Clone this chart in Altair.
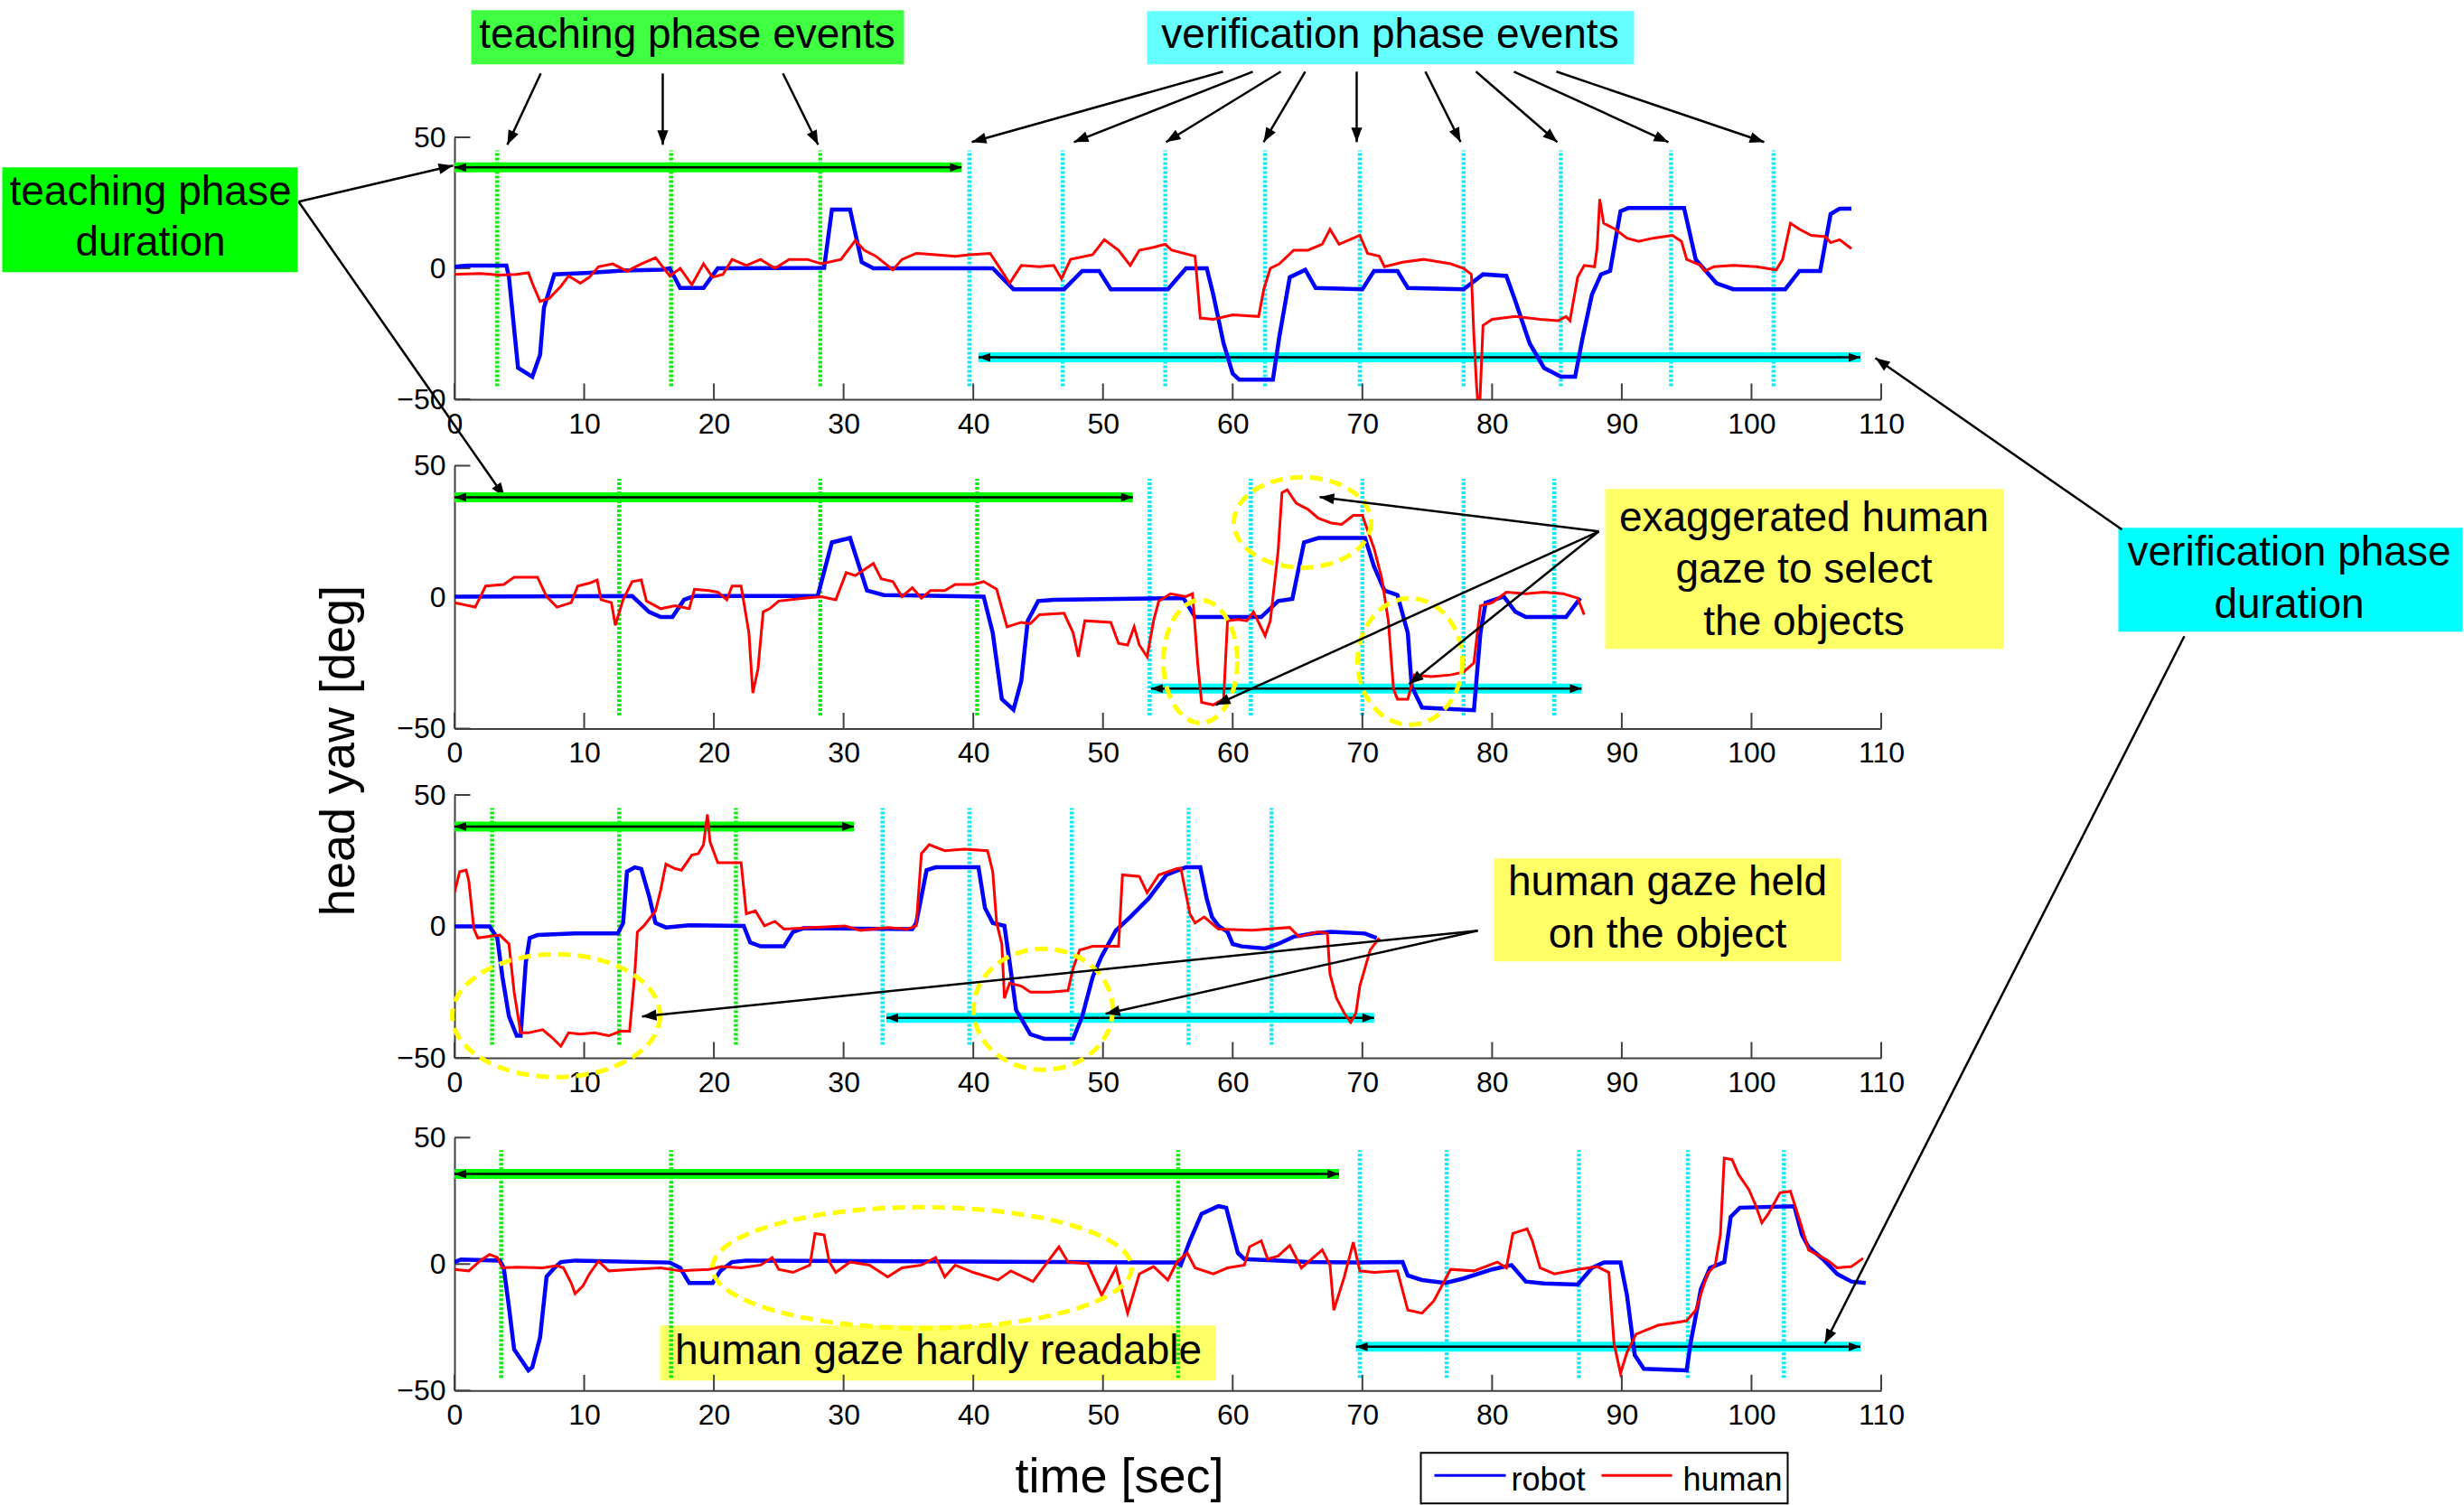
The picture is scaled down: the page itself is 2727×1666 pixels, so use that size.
import math
import altair as alt
import pandas as pd

FONT = "Liberation Sans"

# ---------------- data ----------------
X_TICKS = [0, 10, 20, 30, 40, 50, 60, 70, 80, 90, 100, 110]
Y_TICKS = [-50, 0, 50]
SERIES = ["robot", "human"]
X_TITLE = "time [sec]"
Y_TITLE = "head yaw [deg]"

P1_ROBOT = [(0, 0.6), (1, 1), (4.0, 1), (4.2, -3.4), (4.9, -38), (6.0, -41.4), (6.6, -33), (6.9, -15),
            (7.7, -2.3), (10.4, -1.7), (13, -0.9), (16.0, -0.5), (16.6, 0), (17.4, -7.5), (19.2, -7.5),
            (20.3, 0), (28.5, 0.2), (29.1, 22.4), (30.5, 22.4), (31.4, 2.3), (32.3, 0), (41.5, 0),
            (43.1, -8), (47.0, -8), (48.4, -1), (49.7, -1), (50.6, -8), (55.0, -8), (56.4, 0), (58.0, 0),
            (58.5, -10), (59.3, -28.7), (60, -40.2), (60.5, -42.5), (63.1, -42.5), (63.6, -26),
            (64.4, -3.4), (65.6, -0.6), (66.4, -7.5), (70.0, -8), (70.9, -1), (72.7, -1), (73.5, -7.5),
            (77.8, -8), (79.3, -2.3), (81.1, -2.9), (81.8, -12.6), (82.9, -28.7), (84.0, -38),
            (85.3, -41.4), (86.4, -41.4), (87.0, -26), (87.7, -10), (88.4, -2.3), (89.1, -1),
            (89.9, 21.8), (90.5, 23), (94.8, 23), (95.7, 3.4), (97.3, -5.7), (98.6, -8), (102.6, -8),
            (103.7, -1), (105.3, -1), (106.1, 20.7), (106.8, 22.8), (107.7, 22.8)]
P1_HUMAN = [(0, -2.3), (2, -2.0), (3.5, -2.6), (4.75, -2.3), (5.7, -1.7), (6.0, -5.7), (6.6, -12.6),
            (7.3, -11.5), (8.2, -6.9), (8.8, -2.9), (9.7, -5.7), (10.4, -3.4), (11.1, 0.6), (12.2, 1.7),
            (13.3, -1.1), (14.4, 1.7), (15.5, 4), (16.6, -2.9), (17.4, 0), (18.3, -6.3), (19.2, 1.7),
            (19.9, -3.4), (20.7, -2.3), (21.4, 3.4), (22.5, 1.1), (23.6, 3.4), (24.7, 0), (25.8, 3.4),
            (27.2, 3.4), (28.3, 1.7), (29.8, 3.4), (30.9, 10.6), (31.6, 6.9), (32.5, 4.6), (33.8, -0.6),
            (34.5, 3.4), (35.6, 5.7), (37.1, 5.2), (38.6, 4.6), (39.7, 5.2), (41.3, 5.7), (42.2, -1.1),
            (42.8, -5.7), (43.7, 1.1), (45.1, 0.6), (46.2, 1.1), (46.8, -4), (47.5, 3.4), (49.2, 5.2),
            (50.1, 10.9), (51.2, 6.9), (52.1, 1.1), (52.8, 6.9), (53.9, 8), (54.8, 9.2), (55.3, 6.9),
            (57.1, 4.6), (57.5, -19), (58.5, -19.5), (60, -17.8), (62, -18.4), (62.4, -8), (62.9, 0),
            (63.6, 1.7), (64.7, 6.9), (65.8, 6.9), (66.9, 9.2), (67.5, 14.9), (68.2, 9.2), (69.3, 11.5),
            (69.8, 12.6), (70.4, 5.7), (71.3, 4.6), (71.7, 0.6), (73.1, 2.3), (74.7, 3.4), (76.8, 1.7),
            (77.8, 0), (78.4, -2.3), (78.6, -26), (78.8, -44.8), (79.0, -58), (79.3, -21.8),
            (80.0, -19.5), (81.8, -18.4), (83.7, -19.5), (85.1, -20), (85.7, -18.4), (86.0, -20),
            (86.6, -3.4), (87.1, 1.1), (87.9, 0.6), (88.1, 8), (88.3, 26.4), (88.6, 17.2), (89.5, 14.9),
            (90.4, 11.5), (91.3, 10.3), (92.4, 11.5), (93.9, 12.6), (94.6, 10.3), (95.0, 3.4),
            (96.1, 1.1), (96.4, -1.1), (97.1, 0.6), (98.6, 1.1), (100.4, 0.6), (101.9, -0.6),
            (102.4, 3.4), (103.0, 17.2), (103.7, 14.9), (104.6, 12.6), (105.7, 12.1), (106.1, 9.8),
            (106.8, 10.9), (107.7, 7.5)]

P2_ROBOT = [(0, 0.2), (13.7, 0.4), (15.0, -5.6), (15.9, -7.6), (16.8, -7.6), (17.7, -1), (18.5, 0.4),
            (28.0, 0.4), (29.1, 20.8), (30.5, 22.5), (31.8, 2.5), (33.1, 0.8), (40.8, 0.2), (41.5, -13.6),
            (42.2, -38.8), (43.1, -42.8), (43.7, -31.9), (44.2, -9), (45.0, -1.5), (46.2, -1),
            (54.9, -0.4), (56.2, -0.4), (57.1, -7.6), (62.2, -7.6), (63.5, -1.5), (64.6, -0.7),
            (65.5, 20.8), (66.6, 22.5), (70.2, 22.5), (70.9, 11.6), (71.7, 2.5), (72.7, 0.8),
            (73.5, -13.6), (73.8, -34), (74.6, -42), (78.6, -43), (79.1, -13.6), (79.5, -2.1),
            (80.9, 0.2), (81.8, -5.6), (82.6, -7.6), (85.7, -7.6), (86.8, -0.4)]
P2_HUMAN = [(0, -2.1), (1.6, -3.8), (2.4, 4.2), (3.8, 4.8), (4.6, 7.6), (6.4, 7.6), (7.1, 0.2),
            (7.9, -3.8), (9.0, -2.1), (9.5, 4.2), (10.4, 5.3), (11.0, 6.5), (11.3, -1), (12.1, -2.1),
            (12.4, -10.7), (13.0, -1), (13.7, 5.9), (14.4, 6.5), (14.8, -1.5), (15.9, -4.4),
            (17.0, -3.3), (18.1, -4.4), (18.5, 3), (19.6, 2.5), (20.3, 1.9), (21.0, -1), (21.4, 4.2),
            (22.1, 4.2), (22.7, -13.6), (23.0, -36.5), (23.4, -27.3), (23.8, -5.6), (24.3, -4.4),
            (25.0, -1.5), (26.9, -0.4), (28.3, 0.2), (29.4, -1), (30.2, 9.3), (30.9, 8.2), (31.6, 10.5),
            (32.3, 12.8), (32.9, 7), (33.8, 5.9), (34.5, 0.2), (35.3, 3.6), (36.0, -0.4), (36.7, 2.5),
            (37.8, 2.5), (38.6, 4.8), (40.0, 4.8), (40.8, 5.9), (41.8, 3), (42.6, -11.3), (43.7, -9.6),
            (44.4, -10.1), (45.1, -6.7), (47.0, -6.1), (47.7, -13.6), (48.1, -22.7), (48.6, -9),
            (50.6, -9.6), (51.2, -17.6), (51.9, -18.2), (52.4, -11.3), (52.8, -18.2), (53.4, -22.7),
            (53.9, -9), (54.3, -1.5), (55.2, 1.3), (56.4, 0.2), (56.9, 1.3), (57.3, -25), (57.6, -40),
            (58.5, -41), (59.3, -38.8), (59.6, -9), (60.4, -8.5), (61.1, -9), (61.6, -5.6),
            (62.5, -14.7), (62.9, -9), (63.5, 17.4), (63.8, 39.7), (64.2, 40.8), (64.9, 35.7),
            (65.8, 33.4), (66.6, 30), (67.6, 28.2), (68.4, 27.7), (69.3, 31.1), (70.0, 31.1),
            (70.4, 25.4), (70.9, 18.5), (71.5, 7), (72.0, -9), (72.4, -35), (72.7, -38.8),
            (73.5, -38.8), (74.0, -29.6), (75.3, -30.2), (76.8, -29.6), (77.8, -28.5), (78.6, -25),
            (79.1, -3.3), (80.0, -2.1), (81.1, 1.9), (82.6, 1.3), (84.0, 1.9), (85.5, 1.3),
            (86.6, -0.4), (87.1, -6.7)]

P3_ROBOT = [(0, 0), (2.7, 0), (3.3, -4.4), (3.7, -19.3), (4.2, -34.2), (4.8, -41.6), (5.1, -41.6),
            (5.5, -13.6), (5.8, -4.4), (6.4, -3.3), (9.3, -2.7), (12.6, -2.7), (13.0, 1.3),
            (13.3, 20.8), (13.9, 22.5), (14.4, 21.9), (15.0, 11.6), (15.5, 1.3), (16.3, -0.4),
            (18.1, 0.4), (22.3, 0.2), (22.8, -6.1), (23.6, -7.6), (25.4, -7.6), (26.1, -2.1),
            (26.9, -0.7), (35.3, -1), (35.6, 1.3), (36.4, 21.4), (37.1, 22.5), (40.4, 22.5),
            (40.9, 7), (41.5, 1.3), (42.4, 0.2), (42.8, -13.6), (43.3, -31.8), (44.4, -41),
            (45.5, -42.8), (47.7, -42.8), (48.4, -34.2), (49.2, -19.3), (49.9, -11.3), (51.0, -1.5),
            (52.1, 3.6), (53.5, 10.5), (54.9, 19.6), (56.4, 22.5), (57.5, 22.5), (58.0, 10.5),
            (58.4, 3.6), (58.9, 0.2), (59.6, -2.1), (60.0, -6.7), (60.7, -7.6), (62.5, -8.4),
            (63.5, -6.7), (64.7, -3.9), (66.2, -2.7), (67.6, -2.1), (70.2, -2.7), (71.1, -4.4)]
P3_HUMAN = [(0, 12.8), (0.4, 20.8), (0.9, 21.4), (1.1, 17.4), (1.5, -1), (1.8, -4.4), (2.7, -3.8),
            (3.5, -3.3), (4.2, -6.7), (4.6, -25), (5.1, -40.5), (5.7, -40.5), (6.8, -39.3),
            (7.5, -42.2), (8.2, -45.6), (8.8, -40.5), (9.7, -41), (10.8, -40.5), (11.9, -41.6),
            (12.8, -39.9), (13.5, -39.9), (13.9, -18.1), (14.1, -2.1), (14.6, 0.2), (15.5, 5.9),
            (15.9, 13.9), (16.3, 23.7), (17.0, 22), (17.5, 21.4), (18.3, 27.1), (18.8, 27.7),
            (19.2, 31.1), (19.5, 42.6), (19.7, 32.2), (20.3, 24.2), (22.1, 24.2), (22.5, 4.8),
            (23.2, 5.9), (23.9, 0.2), (24.7, 1.9), (25.4, -1), (27.6, -0.4), (30.1, 0.2), (31.3, -1.5),
            (33.4, -0.4), (34.9, -1), (35.6, 0.2), (36.0, 27.7), (36.6, 31.1), (37.8, 28.8),
            (39.3, 29.4), (41.1, 28.8), (41.5, 20.8), (41.8, 1.3), (42.2, -6.7), (42.4, -27.3),
            (42.8, -21.6), (43.7, -22.7), (44.4, -25), (45.9, -25), (47.3, -24.4), (47.7, -15.9),
            (48.2, -9), (49.2, -7.6), (51.2, -7.6), (51.5, 19.6), (52.8, 19), (53.4, 12.8),
            (54.3, 19.6), (55.7, 22), (56.0, 22.2), (56.7, 4.8), (57.1, 1.3), (57.8, 3.6), (58.9, -1),
            (61.5, -1.5), (64.4, -0.4), (65.1, -3.9), (66.6, -2.1), (67.3, -2.7), (67.5, -18.1),
            (68.0, -27.3), (68.6, -33), (69.1, -36.5), (69.5, -33), (69.8, -22.7), (70.6, -9),
            (71.3, -4.4)]

P4_ROBOT = [(0, 0.8), (0.5, 1.8), (3.5, 1.4), (3.8, -1.5), (4.2, -17), (4.6, -33.7), (5.7, -42),
            (6.0, -40.8), (6.6, -29), (7.1, -5), (7.7, -1.5), (8.2, 0.8), (9.3, 1.4), (16.6, 0.6),
            (17.4, -1.5), (18.1, -7.5), (19.9, -7.5), (20.5, -2.7), (21.4, 0.8), (22.5, 1.4),
            (55.7, 0.6), (56.0, -0.4), (56.7, 9.2), (57.6, 19.9), (58.9, 22.9), (59.5, 22.3),
            (60.4, 4.4), (60.9, 2), (65.8, 0.8), (69.5, 0.6), (73.1, 0.8), (73.5, -4.5), (74.6, -6.3),
            (76.4, -7.5), (77.8, -5.7), (80.0, -2.1), (81.5, -0.4), (82.6, -6.9), (84.0, -7.7),
            (86.6, -8.1), (87.7, -1.5), (88.6, 0.6), (89.9, 0.6), (90.4, -12.3), (91.0, -36),
            (91.7, -41.4), (95.0, -42), (95.3, -31.3), (96.1, -9.9), (96.8, -1.5), (97.9, 0.8),
            (98.4, 18.7), (99.1, 22.3), (103.3, 22.9), (103.9, 11.5), (104.4, 6.8), (105.5, 2),
            (106.6, -3.9), (107.7, -6.9), (108.8, -7.5)]
P4_HUMAN = [(0, -2.1), (1.1, -2.7), (2, 1.4), (2.7, 3.8), (3.3, 2.6), (3.7, -1.5), (4.8, -1.2),
            (6.8, -1.5), (7.9, -0.6), (8.4, -1.5), (9.0, -7.5), (9.3, -11.7), (9.9, -8.7),
            (10.4, -3.9), (11.1, 1.1), (11.9, -2.7), (13.7, -2.1), (15.9, -1.5), (17.4, -2.7),
            (19.6, -2.1), (20.6, -1), (22.1, -1.5), (23.6, -0.4), (24.5, 2.6), (25.0, -2.1),
            (26.1, -3.3), (27.4, -0.4), (27.8, 12.1), (28.5, 11.5), (28.9, 0.8), (29.4, -3.3),
            (30.5, 0.8), (32.0, -0.4), (33.4, -5.1), (34.5, -1.5), (36.0, -0.4), (37.1, 2.6),
            (37.8, -5.1), (38.6, -0.4), (40.0, -3.3), (41.9, -6.3), (42.9, -2.7), (44.6, -6.9),
            (45.9, 2), (46.6, 6.8), (47.3, 0.8), (48.8, 0.2), (49.9, -12.3), (51.0, -1.5),
            (51.9, -19.4), (52.8, -3.9), (53.9, -1), (55.0, -6.3), (55.7, 0.8), (56.5, 4.4),
            (57.1, -1.5), (58.5, -3.9), (59.6, -1.5), (60.9, -0.4), (61.3, 6.8), (62.2, 9.2),
            (62.7, 2), (63.5, 3.2), (64.4, 7.4), (65.3, -1.5), (66.9, 5.6), (67.5, -0.4),
            (67.8, -18.2), (68.6, -5.1), (69.3, 8.6), (69.8, -2.7), (70.9, -3.3), (72.7, -2.7),
            (73.5, -18.2), (74.6, -19.4), (75.5, -14.6), (76.8, -2.1), (78.6, -2.7), (80.4, 0.8),
            (81.1, -1.5), (81.6, 12.1), (82.7, 13.9), (83.1, 9.2), (83.7, -1.5), (84.8, -3.9),
            (86.6, -2.1), (88.1, -1), (89.0, -3.3), (89.4, -31.3), (89.9, -43.2), (90.4, -34.9),
            (91.1, -27.7), (92.8, -24.2), (94.3, -23), (95.0, -22.4), (95.7, -18.2), (96.6, -3.9),
            (97.2, -0.4), (97.6, 11.5), (97.9, 41.9), (98.5, 41.3), (99.0, 35.4), (99.8, 29.4),
            (100.3, 23.5), (100.8, 16.3), (101.3, 19.9), (102.2, 28.2), (103.0, 28.8), (103.7, 17.5),
            (104.4, 5.6), (105.9, 1.4), (106.6, -1.5), (107.7, -1), (108.6, 2.3)]

TEACH_EVENTS = [[3.3, 16.7, 28.2], [12.7, 28.2, 40.3], [2.9, 12.7, 21.7], [3.6, 16.7, 55.8]]
VERIF_EVENTS = [[39.7, 46.9, 54.8, 62.5, 69.8, 77.8, 85.3, 93.8, 101.7],
                [53.6, 61.4, 70.0, 77.8, 84.8],
                [33.0, 39.7, 47.6, 56.6, 63.0],
                [69.8, 76.5, 86.7, 95.1, 102.5]]
TEACH_SPANS = [(0, 39.1, 38.5), (0, 52.3, 38.0), (0, 30.8, 38.0), (0, 68.2, 35.6)]
VERIF_SPANS = [(40.4, 108.4, -34.0), (53.7, 86.9, -34.8), (33.3, 70.9, -34.8), (69.5, 108.4, -32.7)]

# ---------------- layout / style ----------------
PX0 = 502.5
PW = 1579
SPACING = 73.5
HS = [290, 291, 291, 294.8]
OFFS = [0, 0, 0, 14.8]
TOPS = [151.7, 515.2, 879.7, 1244.2]     # group origins (absolute)
AXIS_COL = "#404040"
BLUE, RED = "#0000FF", "#FF0000"
GREEN_EV, CYAN_EV = "#11E811", "#11E8F4"
GREEN_BAR, CYAN_BAR = "#00FF00", "#00FFFF"
ARROW = "M 0 0 L -0.38 1 L 0.38 1 Z"
KAPPA = 0.5523


def ellipse_path(k):
    c = KAPPA
    return (f"M 1 0 C 1 {c*k:.4f} {c:.4f} {k:.4f} 0 {k:.4f} "
            f"C {-c:.4f} {k:.4f} -1 {c*k:.4f} -1 0 "
            f"C -1 {-c*k:.4f} {-c:.4f} {-k:.4f} 0 {-k:.4f} "
            f"C {c:.4f} {-k:.4f} 1 {-c*k:.4f} 1 0 Z")


def PXX(f):
    return alt.X(f, type="quantitative", scale=None)


def PXY(f):
    return alt.Y(f, type="quantitative", scale=None)


def arrow_layers(i, arrows, width=2.5, head=1024):
    rows, heads = [], []
    for (x1, y1, x2, y2) in arrows:
        rows.append(dict(x1=x1 - PX0, y1=y1 - TOPS[i], x2=x2 - PX0, y2=y2 - TOPS[i]))
        ang = math.degrees(math.atan2(x2 - x1, -(y2 - y1))) % 360
        heads.append(dict(x=x2 - PX0, y=y2 - TOPS[i], a=ang))
    ln = alt.Chart(pd.DataFrame(rows)).mark_rule(color="black", strokeWidth=width).encode(
        x=PXX("x1"), y=PXY("y1"), x2="x2:Q", y2="y2:Q")
    hd = alt.Chart(pd.DataFrame(heads)).mark_point(shape=ARROW, filled=True, color="black",
                                                   size=head, opacity=1).encode(
        x=PXX("x"), y=PXY("y"), angle=alt.Angle("a:Q", scale=None))
    return [ln, hd]


def ellipse_layer(i, ells):
    rows = []
    for (cx, cy, rx, ry) in ells:
        rows.append(dict(x=cx - PX0, y=cy - TOPS[i], shp=ellipse_path(ry / rx), sz=(2 * rx) ** 2))
    return alt.Chart(pd.DataFrame(rows)).mark_point(filled=False, color="#FFFF00", strokeWidth=5,
                                                    strokeDash=[14, 8], opacity=1).encode(
        x=PXX("x"), y=PXY("y"), shape=alt.Shape("shp:N", scale=None), size=alt.Size("sz:Q", scale=None))


def box_layers(i, box, fill, lines, size=46, stroke=None):
    x1, y1, x2, y2 = box
    df = pd.DataFrame({"x1": [x1 - PX0], "x2": [x2 - PX0], "y1": [y1 - TOPS[i]], "y2": [y2 - TOPS[i]]})
    kw = dict(fill=fill)
    if stroke:
        kw.update(stroke=stroke, strokeWidth=2)
    out = [alt.Chart(df).mark_rect(**kw).encode(x=PXX("x1"), x2="x2:Q", y=PXY("y1"), y2="y2:Q")]
    if lines:
        tdf = pd.DataFrame({"x": [l[1] - PX0 for l in lines], "y": [l[2] - TOPS[i] for l in lines],
                            "label": [l[0] for l in lines]})
        out.append(alt.Chart(tdf).mark_text(font=FONT, fontSize=size, align="center",
                                            baseline="alphabetic", color="black").encode(
            x=PXX("x"), y=PXY("y"), text="label:N"))
    return out


def make_panel(i, robot, human, bottom=None, top=None, xtitle=False, ytitle=False):
    h = HS[i]
    off = OFFS[i]
    xsc = alt.Scale(domain=[0, 110], nice=False, zero=False)
    ysc = alt.Scale(domain=[-50, 50], range=[h, off], nice=False, zero=False)
    ax_common = dict(labelFont=FONT, labelFontSize=32, labelColor="black", domainColor=AXIS_COL,
                     domainWidth=2, ticks=False, tickSize=0, grid=False)
    xkw = dict(values=X_TICKS, format="d", labelFlush=False, labelOverlap=False, labelPadding=12,
               title=(X_TITLE if xtitle else None), **ax_common)
    if xtitle:
        xkw.update(titleFont=FONT, titleFontSize=54, titleFontWeight="normal", titleColor="black",
                   titleX=735.5, titleY=112.5, titleAlign="center", titleBaseline="alphabetic", titleAngle=0)
    ykw = dict(values=Y_TICKS, format="d", labelPadding=10, title=(Y_TITLE if ytitle else None), **ax_common)
    if ytitle:
        ykw.update(titleFont=FONT, titleFontSize=54, titleFontWeight="normal", titleColor="black",
                   titleX=-111.5, titleY=315, titleAlign="center", titleBaseline="alphabetic", titleAngle=270)
    xaxis = alt.Axis(**xkw)
    yaxis = alt.Axis(**ykw)

    def X(f):
        return alt.X(f, type="quantitative", scale=xsc, axis=xaxis)

    def Y(f):
        return alt.Y(f, type="quantitative", scale=ysc, axis=yaxis)

    layers = list(bottom or [])

    # event lines
    for evs, col in ((TEACH_EVENTS[i], GREEN_EV), (VERIF_EVENTS[i], CYAN_EV)):
        layers.append(alt.Chart(pd.DataFrame({"t": evs})).mark_rule(
            color=col, strokeWidth=4.5, strokeDash=[3, 2]).encode(
            x=X("t"), y=alt.Y(datum=-45, scale=ysc, axis=yaxis), y2=alt.Y2(datum=45)))

    # phase duration bars
    for span, col in ((TEACH_SPANS[i], GREEN_BAR), (VERIF_SPANS[i], CYAN_BAR)):
        x1, x2, yv = span
        df = pd.DataFrame({"x1": [x1], "x2": [x2], "y": [yv]})
        layers.append(alt.Chart(df).mark_rule(color=col, strokeWidth=11).encode(x=X("x1"), x2="x2:Q", y=Y("y")))
        layers.append(alt.Chart(df).mark_rule(color="black", strokeWidth=2.5).encode(x=X("x1"), x2="x2:Q", y=Y("y")))
        hd = pd.DataFrame({"x": [x1, x2], "y": [yv, yv], "a": [270, 90]})
        layers.append(alt.Chart(hd).mark_point(shape=ARROW, filled=True, color="black", size=676,
                                               opacity=1).encode(
            x=X("x"), y=Y("y"), angle=alt.Angle("a:Q", scale=None)))

    # inward ticks
    layers.append(alt.Chart(pd.DataFrame({"v": X_TICKS})).mark_rule(color=AXIS_COL, strokeWidth=2).encode(
        x=X("v"), y=alt.value(h), y2=alt.value(h - 17.5)))
    layers.append(alt.Chart(pd.DataFrame({"v": Y_TICKS})).mark_rule(color=AXIS_COL, strokeWidth=2).encode(
        y=Y("v"), x=alt.value(0), x2=alt.value(17.5)))

    # data lines
    rdf = pd.DataFrame({"t": [p[0] for p in robot], "y": [p[1] for p in robot], "series": SERIES[0]})
    hdf = pd.DataFrame({"t": [p[0] for p in human], "y": [p[1] for p in human], "series": SERIES[1]})
    layers.append(alt.Chart(rdf).mark_line(color=BLUE, strokeWidth=4.5, clip=True).encode(x=X("t"), y=Y("y")))
    layers.append(alt.Chart(hdf).mark_line(color=RED, strokeWidth=3, clip=True).encode(x=X("t"), y=Y("y")))

    layers += list(top or [])
    return alt.layer(*layers).properties(width=PW, height=h)


# ---------------- annotations (absolute pixel geometry) ----------------
p1_top = []
p1_top += box_layers(0, (521, 11, 1000, 71), "#40FF40", [("teaching phase events", 760, 53)])
p1_top += box_layers(0, (1269, 12, 1808, 71), "#66FFFF", [("verification phase events", 1538, 53)])
p1_top += box_layers(0, (2, 185, 329, 301), "#00FF00", [("teaching phase", 166, 227), ("duration", 166, 283)])
p1_top += arrow_layers(0, [(598, 81, 561, 160), (733, 81, 733, 160), (866, 81, 905, 160)])
p1_top += arrow_layers(0, [(1353, 79, 1075, 157), (1386, 79, 1188, 157), (1417, 79, 1290, 157),
                           (1444, 79, 1398, 157), (1501, 79, 1501, 157), (1577, 79, 1616, 157),
                           (1633, 79, 1723, 157), (1675, 79, 1846, 157), (1722, 79, 1952, 157)])
p1_top += arrow_layers(0, [(330, 223, 501, 183), (330, 223, 558, 550)])

p2_top = [ellipse_layer(1, [(1441, 578, 76, 50), (1328, 732, 41, 68), (1560, 732, 58, 70)])]
p2_top += box_layers(1, (1776, 541, 2217, 718), "#FFFF66",
                     [("exaggerated human", 1996, 588), ("gaze to select", 1996, 645), ("the objects", 1996, 703)])
p2_top += arrow_layers(1, [(1769, 588, 1460, 550), (1769, 588, 1345, 780), (1769, 588, 1559, 757)])

p3_top = [ellipse_layer(2, [(615, 1124, 115, 68), (1154, 1117, 77, 67)])]
p3_top += box_layers(2, (1653, 950, 2037, 1064), "#FFFF66",
                     [("human gaze held", 1845, 991), ("on the object", 1845, 1049)])
p3_top += arrow_layers(2, [(1635, 1030, 710, 1125), (1635, 1030, 1223, 1122)])

p4_bottom = box_layers(3, (730, 1467, 1345, 1528), "#FFFF66", [("human gaze hardly readable", 1038, 1510)])
p4_top = [ellipse_layer(3, [(1020, 1403, 232, 67)])]
p4_top += box_layers(3, (2344, 584, 2725, 699), "#00FFFF",
                     [("verification phase", 2533, 626), ("duration", 2533, 684)])
p4_top += arrow_layers(3, [(2348, 586, 2075, 396), (2417, 704, 2019, 1487)])

# legend box (robot / human)
p4_top += box_layers(3, (1572, 1608, 1978, 1664), "white", [], stroke="black")
leg_lines = pd.DataFrame({"x1": [1587 - PX0, 1772 - PX0], "x2": [1666 - PX0, 1850 - PX0],
                          "y": [1633 - TOPS[3]] * 2, "series": SERIES})
p4_top.append(alt.Chart(leg_lines).mark_rule(strokeWidth=3).encode(
    x=PXX("x1"), x2="x2:Q", y=PXY("y"),
    color=alt.Color("series:N", scale=alt.Scale(domain=SERIES, range=[BLUE, RED]), legend=None)))
leg_txt = pd.DataFrame({"x": [1672 - PX0, 1862 - PX0], "y": [1650 - TOPS[3]] * 2, "series": SERIES})
p4_top.append(alt.Chart(leg_txt).mark_text(font=FONT, fontSize=36, align="left", baseline="alphabetic",
                                           color="black").encode(x=PXX("x"), y=PXY("y"), text="series:N"))

p1 = make_panel(0, P1_ROBOT, P1_HUMAN, top=p1_top)
p2 = make_panel(1, P2_ROBOT, P2_HUMAN, top=p2_top, ytitle=True)
p3 = make_panel(2, P3_ROBOT, P3_HUMAN, top=p3_top)
p4 = make_panel(3, P4_ROBOT, P4_HUMAN, bottom=p4_bottom, top=p4_top, xtitle=True)

chart = alt.vconcat(p1, p2, p3, p4, spacing=SPACING, bounds="flush",
                    padding={"left": 2, "top": 11, "right": 0, "bottom": 0},
                    background="white").configure_view(stroke=None)

chart.save("out.html", embed_options={"renderer": "svg", "actions": False})
